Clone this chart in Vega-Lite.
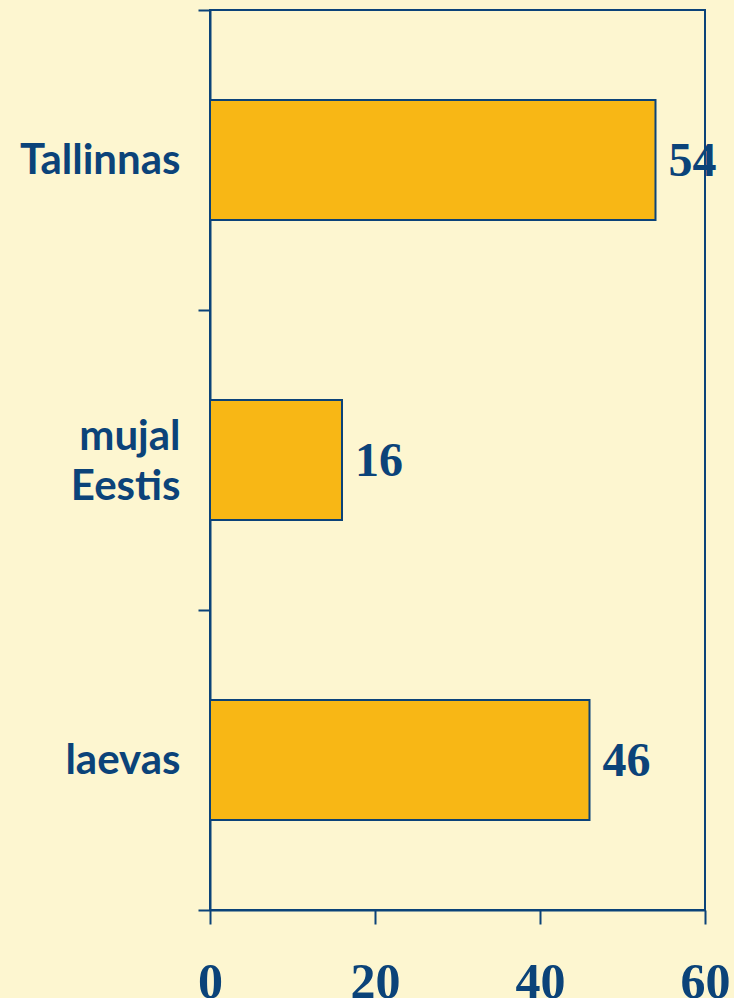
{
  "$schema": "https://vega.github.io/schema/vega-lite/v6.json",
  "autosize": "none",
  "width": 495,
  "height": 900,
  "padding": {"left": 210, "top": 10, "right": 29, "bottom": 88},
  "background": "#FDF6D0",
  "config": {
    "view": {"stroke": "#0B4379", "strokeWidth": 2}
  },
  "data": {
    "values": [
      {"koht": "Tallinnas", "vaartus": 54},
      {"koht": "mujal Eestis", "vaartus": 16},
      {"koht": "laevas", "vaartus": 46}
    ]
  },
  "encoding": {
    "y": {
      "field": "koht",
      "type": "nominal",
      "sort": null,
      "scale": {"paddingInner": 0, "paddingOuter": 0},
      "axis": {
        "title": null,
        "tickBand": "extent",
        "domainColor": "#0B4379",
        "domainWidth": 2,
        "tickColor": "#0B4379",
        "tickWidth": 2,
        "tickSize": 12,
        "labelPadding": 18,
        "labelFont": "Lato",
        "labelFontWeight": "bold",
        "labelFontSize": 42,
        "labelColor": "#0B4379",
        "labelLineHeight": 50,
        "labelOffset": {"condition": {"test": "datum.value == 'mujal Eestis'", "value": -24}, "value": 0},
        "labelExpr": "isValid(datum.value) ? split(datum.value, ' ') : ''"
      }
    }
  },
  "layer": [
    {
      "mark": {"type": "bar", "fill": "#F8B715", "stroke": "#0B4379", "strokeWidth": 2, "height": {"band": 0.4}},
      "encoding": {
        "x": {
          "field": "vaartus",
          "type": "quantitative",
          "scale": {"domain": [0, 60], "nice": false},
          "axis": {
            "title": null,
            "values": [0, 20, 40, 60],
            "grid": false,
            "domainColor": "#0B4379",
            "domainWidth": 2,
            "tickColor": "#0B4379",
            "tickWidth": 2,
            "tickSize": 14,
            "labelPadding": 33,
            "labelFont": "Liberation Serif",
            "labelFontWeight": "bold",
            "labelFontSize": 50,
            "labelColor": "#0B4379",
            "labelFlush": false
          }
        }
      }
    },
    {
      "mark": {"type": "text", "align": "left", "baseline": "middle", "dx": 13, "dy": 2, "font": "Liberation Serif", "fontWeight": "bold", "fontSize": 48, "color": "#0B4379"},
      "encoding": {
        "x": {"field": "vaartus", "type": "quantitative"},
        "text": {"field": "vaartus", "type": "quantitative"}
      }
    }
  ]
}
